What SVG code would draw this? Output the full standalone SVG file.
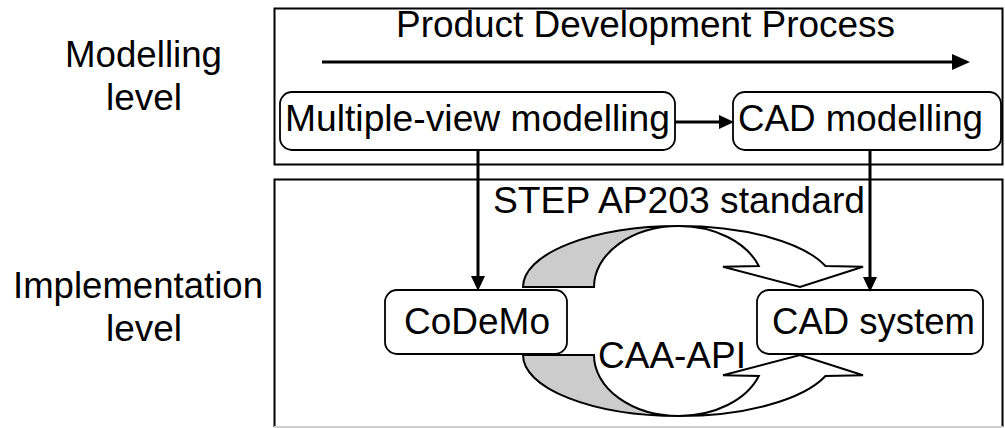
<svg xmlns="http://www.w3.org/2000/svg" width="1005" height="428" viewBox="0 0 1005 428">
<style>
text{font-family:"Liberation Sans",Arial,sans-serif;font-size:36px;fill:#000}
.frame{fill:none;stroke:#000;stroke-width:2}
.node{fill:#fff;stroke:#000;stroke-width:1.8}
.conn{fill:none;stroke:#000;stroke-width:3}
.band{stroke:#000;stroke-width:2;stroke-linejoin:miter}
</style>
<defs>
<marker id="ah" viewBox="0 0 18 16" refX="9" refY="8" markerWidth="18" markerHeight="16" markerUnits="userSpaceOnUse" orient="auto">
<path d="M0,0 L18,8 L0,16 Z" fill="#000"/>
</marker>
<marker id="ahs" viewBox="0 0 15 14" refX="7" refY="7" markerWidth="15" markerHeight="14" markerUnits="userSpaceOnUse" orient="auto">
<path d="M0,0 L15,7 L0,14 Z" fill="#000"/>
</marker>
<g id="curvedArrow">
<path class="band" fill="#cccccc" d="M523,287 A156,61 0 0 1 679,226 A85,61 0 0 0 594,287 Z"/>
<path class="band" fill="#fff" d="M679,226 A156,61 0 0 1 825.5,266 L863,266.7 L800,287 L723,266.7 L758.8,266 A85,61 0 0 0 679,226 Z"/>
</g>
</defs>

<g id="labels">
<text x="65" y="67" textLength="157" lengthAdjust="spacingAndGlyphs">Modelling</text>
<text x="106" y="110" textLength="76" lengthAdjust="spacingAndGlyphs">level</text>
<text x="13" y="298" textLength="250" lengthAdjust="spacingAndGlyphs">Implementation</text>
<text x="106" y="341" textLength="76" lengthAdjust="spacingAndGlyphs">level</text>
</g>

<g id="modelling-frame">
<rect class="frame" x="274.5" y="8.5" width="728" height="156"/>
<text x="396" y="37" textLength="499" lengthAdjust="spacingAndGlyphs">Product Development Process</text>
</g>

<g id="implementation-frame">
<path class="frame" d="M274.5,427 V179.5 H1002.5 V427"/>
<line x1="274" y1="427" x2="1003" y2="427" stroke="#d0d0d0" stroke-width="2"/>
</g>

<g id="exchange-arrows">
<use href="#curvedArrow"/>
<use href="#curvedArrow" transform="translate(0,642) scale(1,-1)"/>
</g>

<g id="multiple-view">
<rect class="node" x="280" y="92" width="395" height="58" rx="12"/>
<text x="285" y="131" textLength="385" lengthAdjust="spacingAndGlyphs">Multiple-view modelling</text>
</g>

<g id="cad-modelling">
<rect class="node" x="733" y="92" width="268" height="58" rx="12"/>
<text x="738" y="131" textLength="245" lengthAdjust="spacingAndGlyphs">CAD modelling</text>
</g>

<g id="codemo">
<rect class="node" x="385" y="290" width="182" height="64" rx="12"/>
<text x="404" y="334" textLength="146" lengthAdjust="spacingAndGlyphs">CoDeMo</text>
</g>

<g id="cad-system">
<rect class="node" x="757" y="290" width="226" height="64" rx="12"/>
<text x="772" y="334" textLength="203" lengthAdjust="spacingAndGlyphs">CAD system</text>
</g>

<g id="connectors">
<path class="conn" d="M322,62 H961" stroke-width="3.5" marker-end="url(#ah)"/>
<path class="conn" d="M675,122 H726" marker-end="url(#ahs)"/>
<path class="conn" d="M478,150 V283" marker-end="url(#ahs)"/>
<path class="conn" d="M870,150 V284" marker-end="url(#ahs)"/>
</g>

<g id="edge-labels">
<text x="493" y="213" textLength="372" lengthAdjust="spacingAndGlyphs">STEP AP203 standard</text>
<text x="598" y="368" textLength="148" lengthAdjust="spacingAndGlyphs">CAA-API</text>
</g>
</svg>
